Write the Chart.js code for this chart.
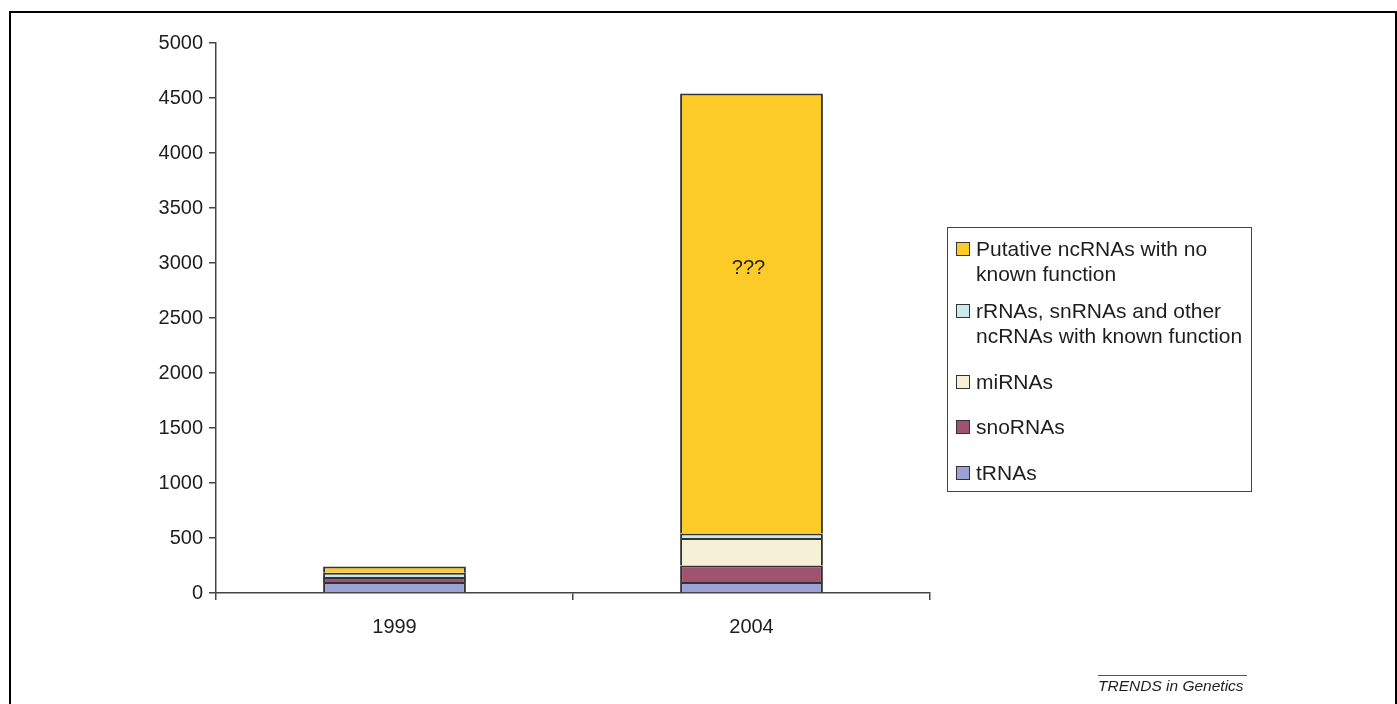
<!DOCTYPE html>
<html>
<head>
<meta charset="utf-8">
<script src="https://cdn.jsdelivr.net/npm/chart.js@4/dist/chart.umd.min.js"></script>
<style>
  body { margin: 0; width: 1397px; height: 704px; overflow: hidden; background: #fff; font-family: Arial, "Liberation Sans", sans-serif; }
  #frame { position: absolute; left: 9px; top: 11px; width: 1384px; height: 720px; border: 2px solid #000; border-bottom: none; }
  #wrap { position: absolute; left: 0; top: 0; width: 1397px; height: 704px; }
  #legend { position: absolute; left: 947px; top: 227px; width: 303px; height: 263px; border: 1.5px solid #444; box-sizing: content-box; }
  .item { position: absolute; left: 8px; font-size: 21px; line-height: 25px; color: #1e1e1e; padding-left: 20px; white-space: nowrap; }
  .item .box { position: absolute; left: 0; top: 6px; width: 12px; height: 12px; border: 1px solid #333; }
  #credit { position: absolute; left: 1098px; top: 675px; width: 149px; border-top: 1px solid #555; font-size: 15.5px; font-style: italic; color: #1e1e1e; padding-top: 1px; white-space: nowrap; }
</style>
</head>
<body>
<div id="frame"></div>
<div id="wrap"><canvas id="chart"></canvas></div>
<div id="legend"></div>
<div id="credit">TRENDS in Genetics</div>
<script>
// Data
var years = ['1999', '2004'];
var tRNAs = [100, 100];
var snoRNAs = [45, 150];
var miRNAs = [0, 250];
var knownNcRNAs = [40, 40];
var putativeNcRNAs = [55, 4000];
var yTicks = [0, 500, 1000, 1500, 2000, 2500, 3000, 3500, 4000, 4500, 5000];
var unknownLabel = '???';
var unknownLabelValue = 2950; // where the ??? sits on the y scale

var seriesNames = ['tRNAs', 'snoRNAs', 'miRNAs', ['rRNAs, snRNAs and other', 'ncRNAs with known function'], ['Putative ncRNAs with no', 'known function']];
var seriesColors = ['#9aa3d4', '#a0536f', '#f6f1d6', '#cde8ef', '#fccb27'];
var seriesData = [tRNAs, snoRNAs, miRNAs, knownNcRNAs, putativeNcRNAs];

Chart.defaults.font.family = 'Arial, "Liberation Sans", sans-serif';
Chart.defaults.font.size = 20;
Chart.defaults.color = '#1e1e1e';

var datasets = seriesData.map(function (d, i) {
    return {
        label: seriesNames[i],
        data: d,
        backgroundColor: seriesColors[i],
        borderColor: '#333',
        borderWidth: 2,
        barPercentage: 0.4,
        categoryPercentage: 1.0,
    };
});

// Draws the ??? inside the big yellow segment
var unknownText = {
    id: 'unknownText',
    afterDatasetsDraw: function (chart) {
        const ctx = chart.ctx;
        const x = chart.scales.x.getPixelForValue(1);
        const y = chart.scales.y.getPixelForValue(unknownLabelValue);
        ctx.save();
        ctx.font = '20px Arial, "Liberation Sans", sans-serif';
        ctx.fillStyle = '#1e1e1e';
        ctx.textAlign = 'center';
        ctx.textBaseline = 'middle';
        ctx.fillText(unknownLabel, x - 3, y);
        ctx.restore();
    }
};

var chart = new Chart(document.getElementById('chart'), {
    type: 'bar',
    data: { labels: years, datasets: datasets },
    plugins: [unknownText],
    options: {
        responsive: true,
        maintainAspectRatio: false,
        animation: false,
        layout: { padding: { left: 0, top: 43, right: 467, bottom: 61 } },
        plugins: { legend: { display: false }, tooltip: { enabled: false } },
        scales: {
            x: {
                stacked: true,
                afterFit: function (scale) { scale.height = 50; },
                grid: { offset: true, drawOnChartArea: false, tickLength: 7, color: '#444', lineWidth: 1.5 },
                border: { color: '#444', width: 1.5 },
                ticks: { padding: 15 },
            },
            y: {
                stacked: true,
                min: 0,
                max: 5000,
                afterFit: function (scale) { scale.width = 216; },
                afterBuildTicks: function (scale) { scale.ticks = yTicks.map(v => ({ value: v })); },
                grid: { drawOnChartArea: false, tickLength: 7, color: '#444', lineWidth: 1.5 },
                border: { color: '#444', width: 1.5 },
                ticks: { padding: 6, callback: function (val) { return String(val); } },
            }
        }
    }
});

// HTML legend, top entry is the top of the stack
var legendTops = [8, 70, 141, 186, 232];
var legendEl = document.getElementById('legend');
for (let i = seriesNames.length - 1, k = 0; i >= 0; i--, k++) {
    let item = document.createElement('div');
    item.className = 'item';
    item.style.top = legendTops[k] + 'px';
    let box = document.createElement('span');
    box.className = 'box';
    box.style.backgroundColor = seriesColors[i];
    item.appendChild(box);
    let name = seriesNames[i];
    item.insertAdjacentHTML('beforeend', Array.isArray(name) ? name.join('<br>') : name);
    legendEl.appendChild(item);
}
</script>
</body>
</html>
